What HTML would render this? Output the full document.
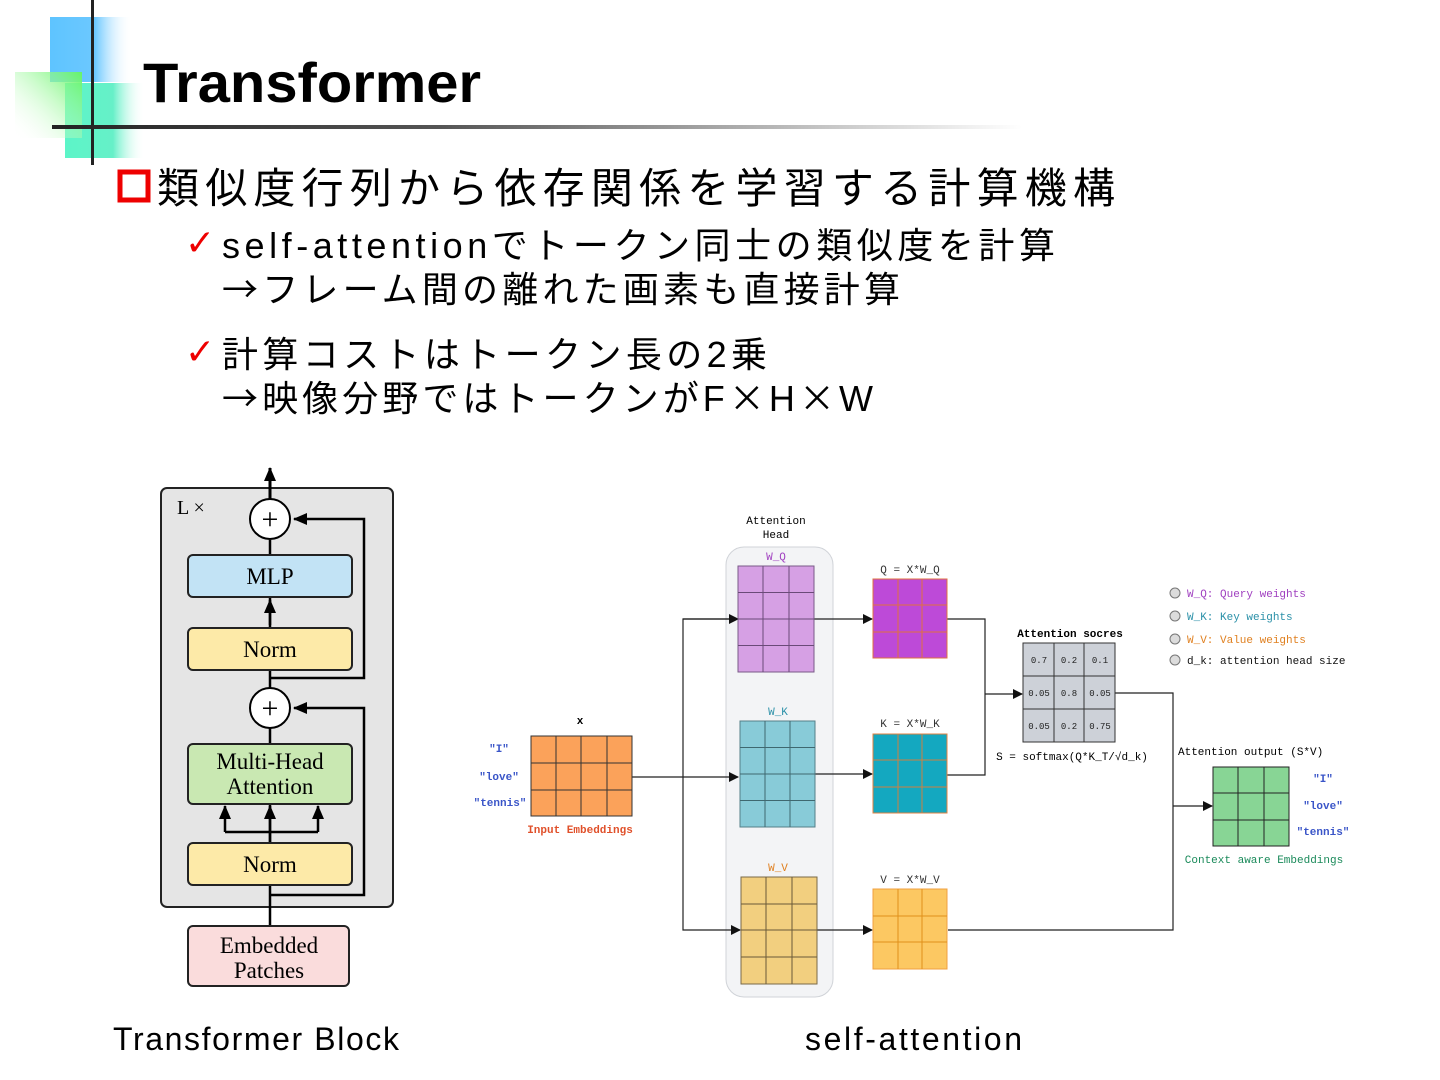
<!DOCTYPE html>
<html><head><meta charset="utf-8"><style>
html,body{margin:0;padding:0;background:#fff;}
svg{display:block}
.jp{font-family:"Liberation Sans","Noto Sans CJK JP",sans-serif;}
.cj{font-family:"Noto Sans CJK JP",sans-serif;}
.mono{font-family:"Liberation Mono","DejaVu Sans Mono",monospace;}
.serif{font-family:"Liberation Serif",serif;}
</style></head><body>
<svg width="1440" height="1080" viewBox="0 0 1440 1080" xmlns="http://www.w3.org/2000/svg">
<defs>
<linearGradient id="gb" x1="0" x2="1"><stop offset="0" stop-color="#5ec4ff"/><stop offset="0.55" stop-color="#6cc8ff"/><stop offset="1" stop-color="#fff" stop-opacity="0"/></linearGradient>
<linearGradient id="gg" x1="1" y1="0" x2="0" y2="1"><stop offset="0" stop-color="#66f566"/><stop offset="1" stop-color="#fff" stop-opacity="0"/></linearGradient>
<linearGradient id="gt" x1="0" x2="1"><stop offset="0" stop-color="#5cf5c8"/><stop offset="0.6" stop-color="#66f0c8"/><stop offset="1" stop-color="#fff" stop-opacity="0"/></linearGradient>
<linearGradient id="gl" x1="0" x2="1"><stop offset="0" stop-color="#222"/><stop offset="0.4" stop-color="#555"/><stop offset="1" stop-color="#fff"/></linearGradient>
<marker id="a" markerWidth="10" markerHeight="10" refX="9" refY="5" orient="auto" markerUnits="userSpaceOnUse"><path d="M0,0 L10,5 L0,10z" fill="#111"/></marker>
<marker id="b" markerWidth="14" markerHeight="14" refX="13" refY="7" orient="auto" markerUnits="userSpaceOnUse"><path d="M0,1 L14,7 L0,13z" fill="#000"/></marker>
</defs>
<!-- decoration -->
<rect x="50" y="17" width="82" height="65" fill="url(#gb)"/>
<rect x="65" y="83" width="80" height="75" fill="url(#gt)"/>
<rect x="15" y="72" width="67" height="66" fill="url(#gg)"/>
<rect x="91" y="0" width="3" height="165" fill="#222"/>
<rect x="52" y="125" width="970" height="4" fill="url(#gl)"/>
<text x="143" y="102" font-family="Liberation Sans, sans-serif" font-size="56" font-weight="bold" fill="#000" textLength="338" lengthAdjust="spacingAndGlyphs">Transformer</text>
<!-- bullets -->
<rect x="120" y="172" width="28" height="28" fill="none" stroke="#e00" stroke-width="5"/>
<text class="jp" x="157" y="203" font-size="42" textLength="958">類似度行列から依存関係を学習する計算機構</text>
<text x="185" y="255" font-size="36" fill="#e00" font-family="DejaVu Sans,sans-serif">✓</text>
<text class="jp" x="222" y="258" font-size="36" textLength="833">self-attentionでトークン同士の類似度を計算</text>
<text class="cj" x="222" y="302" font-size="36" textLength="678">→フレーム間の離れた画素も直接計算</text>
<text x="185" y="364" font-size="36" fill="#e00" font-family="DejaVu Sans,sans-serif">✓</text>
<text class="jp" x="222" y="367" font-size="36" textLength="545">計算コストはトークン長の2乗</text>
<text class="jp" x="222" y="411" font-size="36" textLength="651"><tspan class="cj">→</tspan>映像分野ではトークンがF<tspan class="cj">×</tspan>H<tspan class="cj">×</tspan>W</text>
<!-- transformer block -->
<g class="serif">
<rect x="161" y="488" width="232" height="419" rx="6" fill="#e5e5e5" stroke="#222" stroke-width="2"/>
<text x="177" y="514" font-size="20">L ×</text>
<line x1="270" y1="499" x2="270" y2="468" stroke="#000" stroke-width="3" marker-end="url(#b)"/>
<line x1="270" y1="925" x2="270" y2="540" stroke="#000" stroke-width="2.5"/>
<polyline points="270,678 364,678 364,519 294,519" fill="none" stroke="#000" stroke-width="2.5" marker-end="url(#b)"/>
<polyline points="270,895 364,895 364,708 294,708" fill="none" stroke="#000" stroke-width="2.5" marker-end="url(#b)"/>
<line x1="270" y1="625" x2="270" y2="600" stroke="#000" stroke-width="2.5" marker-end="url(#b)"/>
<polyline points="225,832 318,832" fill="none" stroke="#000" stroke-width="2.5"/>
<line x1="225" y1="832" x2="225" y2="806" stroke="#000" stroke-width="2.5" marker-end="url(#b)"/>
<line x1="270" y1="843" x2="270" y2="806" stroke="#000" stroke-width="2.5" marker-end="url(#b)"/>
<line x1="318" y1="832" x2="318" y2="806" stroke="#000" stroke-width="2.5" marker-end="url(#b)"/>
<circle cx="270" cy="519" r="20" fill="#fff" stroke="#000" stroke-width="2"/>
<text x="270" y="529" font-size="30" text-anchor="middle">+</text>
<circle cx="270" cy="708" r="20" fill="#fff" stroke="#000" stroke-width="2"/>
<text x="270" y="718" font-size="30" text-anchor="middle">+</text>
<rect x="188" y="555" width="164" height="42" rx="5" fill="#c2e3f5" stroke="#222" stroke-width="2"/>
<text x="270" y="584" font-size="23" text-anchor="middle">MLP</text>
<rect x="188" y="628" width="164" height="42" rx="5" fill="#fdeaa8" stroke="#222" stroke-width="2"/>
<text x="270" y="657" font-size="23" text-anchor="middle">Norm</text>
<rect x="188" y="744" width="164" height="60" rx="5" fill="#c9e8b2" stroke="#222" stroke-width="2"/>
<text x="270" y="769" font-size="23" text-anchor="middle">Multi-Head</text>
<text x="270" y="794" font-size="23" text-anchor="middle">Attention</text>
<rect x="188" y="843" width="164" height="42" rx="5" fill="#fdeaa8" stroke="#222" stroke-width="2"/>
<text x="270" y="872" font-size="23" text-anchor="middle">Norm</text>
<rect x="188" y="926" width="161" height="60" rx="5" fill="#fadcdc" stroke="#222" stroke-width="2"/>
<text x="269" y="953" font-size="23" text-anchor="middle">Embedded</text>
<text x="269" y="978" font-size="23" text-anchor="middle">Patches</text>
</g>
<text class="jp" x="113" y="1050" font-size="32" textLength="286">Transformer Block</text>
<text class="jp" x="805" y="1050" font-size="32" textLength="217">self-attention</text>
<!-- self-attention diagram -->
<g class="mono" font-size="11">
<rect x="726" y="547" width="107" height="450" rx="18" fill="#f3f4f6" stroke="#d0d3d8"/>
<text x="776" y="524" text-anchor="middle">Attention</text>
<text x="776" y="538" text-anchor="middle">Head</text>
<g stroke="#222" stroke-width="1.2" fill="none">
<line x1="632" y1="777" x2="738" y2="777" marker-end="url(#a)"/>
<polyline points="738,619 683,619 683,930 740,930" marker-end="url(#a)"/>
<line x1="683" y1="619" x2="738" y2="619" marker-end="url(#a)"/>
<line x1="814" y1="619" x2="872" y2="619" marker-end="url(#a)"/>
<line x1="815" y1="774" x2="872" y2="774" marker-end="url(#a)"/>
<line x1="817" y1="930" x2="872" y2="930" marker-end="url(#a)"/>
<polyline points="947,619 985,619 985,775 947,775"/>
<line x1="985" y1="694" x2="1022" y2="694" marker-end="url(#a)"/>
<polyline points="1115,693 1173,693 1173,930 948,930"/>
<line x1="1173" y1="806" x2="1212" y2="806" marker-end="url(#a)"/>
</g>
<text x="776" y="560" text-anchor="middle" fill="#a040c0">W_Q</text>
<rect x="738" y="566" width="76" height="106" fill="#d6a0e4" stroke="#7a5a88"/>
<path d="M763,566V672M789,566V672M738,592.5H814M738,619H814M738,645.5H814" stroke="#6a4a78"/>
<text x="778" y="715" text-anchor="middle" fill="#2a90a8">W_K</text>
<rect x="740" y="721" width="75" height="106" fill="#88cbd8" stroke="#557f88"/>
<path d="M765,721V827M790,721V827M740,747.5H815M740,774H815M740,800.5H815" stroke="#3f6870"/>
<text x="778" y="871" text-anchor="middle" fill="#e08020">W_V</text>
<rect x="741" y="877" width="76" height="107" fill="#f2cf7f" stroke="#7a6a48"/>
<path d="M766,877V984M792,877V984M741,904H817M741,930H817M741,957H817" stroke="#6a5a38"/>
<text x="910" y="573" text-anchor="middle" fill="#333">Q = X*W_Q</text>
<rect x="873" y="579" width="74" height="79" fill="#bd4ad8" stroke="#e07040"/>
<path d="M898,579V658M922,579V658M873,605H947M873,632H947" stroke="#e07040"/>
<text x="910" y="727" text-anchor="middle" fill="#333">K = X*W_K</text>
<rect x="873" y="734" width="74" height="79" fill="#14a8c0" stroke="#e08040"/>
<path d="M898,734V813M922,734V813M873,760H947M873,787H947" stroke="#d08040"/>
<text x="910" y="883" text-anchor="middle" fill="#333">V = X*W_V</text>
<rect x="873" y="889" width="74" height="80" fill="#fcc862" stroke="#f0a040"/>
<path d="M898,889V969M922,889V969M873,916H947M873,942H947" stroke="#e0901a"/>
<text x="580" y="724" text-anchor="middle" font-weight="bold">x</text>
<rect x="531" y="736" width="101" height="80" fill="#fba25a" stroke="#333"/>
<path d="M556,736V816M581,736V816M607,736V816M531,763H632M531,790H632" stroke="#333"/>
<g fill="#3a55c8" font-weight="bold" text-anchor="middle">
<text x="499" y="752">"I"</text><text x="499" y="780">"love"</text><text x="500" y="806">"tennis"</text>
<text x="1323" y="782">"I"</text><text x="1323" y="809">"love"</text><text x="1323" y="835">"tennis"</text>
</g>
<text x="580" y="833" text-anchor="middle" fill="#e0502a" font-weight="bold">Input Embeddings</text>
<text x="1070" y="637" text-anchor="middle" font-weight="bold">Attention socres</text>
<rect x="1023" y="643" width="92" height="99" fill="#cdd1d8" stroke="#333"/>
<path d="M1054,643V742M1084,643V742M1023,676H1115M1023,709H1115" stroke="#333"/>
<g font-size="9" text-anchor="middle" fill="#222">
<text x="1039" y="663">0.7</text><text x="1069" y="663">0.2</text><text x="1100" y="663">0.1</text>
<text x="1039" y="696">0.05</text><text x="1069" y="696">0.8</text><text x="1100" y="696">0.05</text>
<text x="1039" y="729">0.05</text><text x="1069" y="729">0.2</text><text x="1100" y="729">0.75</text>
</g>
<text x="1072" y="760" text-anchor="middle">S = softmax(Q*K_T/√d_k)</text>
<text x="1178" y="755">Attention output (S*V)</text>
<rect x="1213" y="767" width="76" height="79" fill="#88d595" stroke="#222"/>
<path d="M1238,767V846M1264,767V846M1213,793H1289M1213,820H1289" stroke="#222"/>
<text x="1264" y="863" text-anchor="middle" fill="#1a8a5a">Context aware Embeddings</text>
<g fill="#dcdcdc" stroke="#777">
<circle cx="1175" cy="593" r="5"/><circle cx="1175" cy="616" r="5"/><circle cx="1175" cy="639" r="5"/><circle cx="1175" cy="660" r="5"/>
</g>
<text x="1187" y="597" fill="#a040c0">W_Q: Query weights</text>
<text x="1187" y="620" fill="#2a90a8">W_K: Key weights</text>
<text x="1187" y="643" fill="#e08020">W_V: Value weights</text>
<text x="1187" y="664" fill="#111">d_k: attention head size</text>
</g>
</svg>
</body></html>
